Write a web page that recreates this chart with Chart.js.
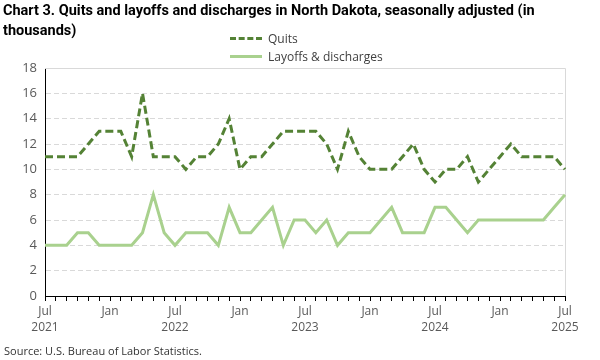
<!DOCTYPE html>
<html>
<head>
<meta charset="utf-8">
<script src="https://cdn.jsdelivr.net/npm/chart.js@4.4.1/dist/chart.umd.min.js"></script>
<style>
  html, body { margin:0; padding:0; background:#fff; }
  #wrap { position:relative; width:600px; height:360px; font-family:"Open Sans", "Noto Sans", sans-serif; }
  #chart { position:absolute; left:0; top:0; }
  .title { position:absolute; left:3px; top:1px; font:bold 14.5px "Roboto", sans-serif; color:#000; line-height:20px; white-space:nowrap; }
  .legend { position:absolute; left:230px; top:29px; font-size:12px; color:#404040; }
  .legend-item { display:flex; align-items:center; height:18px; }
  .legend-sq { display:inline-block; width:32px; margin-right:6px; }
  .source { position:absolute; left:4px; top:343px; font-size:11px; color:#333; white-space:nowrap; }
</style>
</head>
<body>
<div id="wrap">
  <canvas id="chart" width="600" height="360"></canvas>
  <div class="title">Chart 3. Quits and layoffs and discharges in North Dakota, seasonally adjusted (in<br>thousands)</div>
  <div class="legend">
    <div class="legend-item"><span class="legend-sq" style="border-top:3px dashed #548235"></span>Quits</div>
    <div class="legend-item"><span class="legend-sq" style="border-top:3px solid #A9D18E"></span>Layoffs &amp; discharges</div>
  </div>
  <div class="source">Source: U.S. Bureau of Labor Statistics.</div>
</div>
<script>
// Jul 2021 .. Jul 2025, monthly
const MONTHS = ['Jul','Aug','Sep','Oct','Nov','Dec','Jan','Feb','Mar','Apr','May','Jun'];
const START_YEAR = 2021;
const N_MONTHS = 49;

const quits = [11,11,11,11,12,13,13,13,11,16,11,11,
               11,10,11,11,12,14,10,11,11,12,13,13,
               13,13,12,10,13,11,10,10,10,11,12,10,
                9,10,10,11, 9,10,11,12,11,11,11,11,
               10];

const layoffs = [4,4,4,5,5,4,4,4,4,5,8,5,
                 4,5,5,5,4,7,5,5,6,7,4,6,
                 6,5,6,4,5,5,5,6,7,5,5,5,
                 7,7,6,5,6,6,6,6,6,6,6,7,
                 8];

const yTicks = [0,2,4,6,8,10,12,14,16,18];

const labels = [];
for (let i = 0; i < N_MONTHS; i++) {
  const m = MONTHS[i % 12];
  const yr = START_YEAR + Math.floor(i / 12);
  if (m === 'Jul') labels.push(['Jul', String(yr)]);
  else if (m === 'Jan') labels.push('Jan');
  else labels.push('');
}

// light grey frame on top and right of the plot area
const frame = {
  id: 'frame',
  beforeDatasetsDraw(chart) {
    const { ctx, chartArea: a } = chart;
    ctx.save();
    ctx.strokeStyle = '#d9d9d9';
    ctx.lineWidth = 1;
    ctx.beginPath();
    ctx.moveTo(a.left, a.top + 0.5);
    ctx.lineTo(a.right + 0.5, a.top + 0.5);
    ctx.lineTo(a.right + 0.5, a.bottom);
    ctx.stroke();
    ctx.restore();
  }
};

new Chart(document.getElementById('chart'), {
  type: 'line',
  data: {
    labels,
    datasets: [
      { label:'Quits', data:quits, borderColor:'#548235', borderWidth:3, borderDash:[8,4], pointRadius:0, tension:0, fill:false },
      { label:'Layoffs & discharges', data:layoffs, borderColor:'#A9D18E', borderWidth:3, pointRadius:0, tension:0, fill:false }
    ]
  },
  options: {
    responsive:false, animation:false,
    layout:{ padding:{ top:68, right:35, left:0, bottom:0 } },
    plugins:{ legend:{ display:false }, tooltip:{ enabled:false } },
    scales: {
      x: {
        afterFit: s => { s.height = 64; },
        grid:{ drawOnChartArea:false, drawTicks:true, tickLength:5, color:'#000' },
        border:{ color:'#000', width:1 },
        ticks:{ autoSkip:false, maxRotation:0, padding:2, color:'#595959', font:{ family:'"Open Sans"', size:12, lineHeight:1.35 } }
      },
      y: {
        min:0, max:18,
        afterFit: s => { s.width = 45; },
        afterBuildTicks: s => { s.ticks = yTicks.map(v => ({ value:v })); },
        grid:{ color:'#d9d9d9', drawTicks:false },
        border:{ color:'#000', width:1, dash:[5,3] },
        ticks:{ padding:8, color:'#595959', font:{ family:'"Open Sans"', size:13 } }
      }
    }
  },
  plugins:[frame]
});
</script>
</body>
</html>
